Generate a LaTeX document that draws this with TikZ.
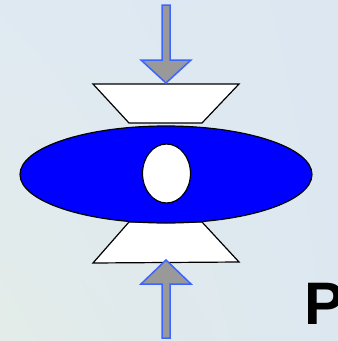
\documentclass[tikz,border=0pt]{standalone}
\usepackage{fontspec}
\newfontfamily\labelfont{Liberation Sans}
\usetikzlibrary{shapes.geometric, shadings, positioning}
\definecolor{bgblue}{RGB}{220,231,241}
\definecolor{bggreen}{RGB}{227,236,232}
\definecolor{cellblue}{RGB}{0,0,255}
\definecolor{arrowfill}{RGB}{153,153,153}
\definecolor{arrowedge}{RGB}{60,100,255}

\begin{document}
\begin{tikzpicture}[
    x=1pt, y=-1pt,
    platen/.style={fill=white, draw=black, line width=1.2pt, line join=miter},
    cell/.style={ellipse, fill=cellblue, draw=black, line width=1.2pt,
                 minimum width=292pt, minimum height=97pt, inner sep=0pt},
    nucleus/.style={ellipse, fill=white, draw=black, line width=1.2pt,
                    minimum width=48pt, minimum height=59pt, inner sep=0pt},
    force/.style={fill=arrowfill, draw=arrowedge, line width=1.5pt,
                  line join=miter},
    plabel/.style={font=\labelfont\bfseries\fontsize{60}{60}\selectfont,
                   inner sep=0pt, anchor=base west},
]

% ======================================================
% Background: soft diagonal wash
% ======================================================
\shade[upper left=bgblue!90!white, upper right=bgblue,
       lower left=bggreen, lower right=bgblue!95!bggreen]
     (0,0) rectangle (338,341);
\useasboundingbox (0,0) rectangle (338,341);

% ======================================================
% Platens above and below the cell
% ======================================================
\draw[platen] (93,84) -- (239,84) -- (202,123) -- (129,123) -- cycle;
\draw[platen] (129,222) -- (202,222) -- (239,262) -- (93,263) -- cycle;

% cell body with its nucleus
\node[cell] (body) at (166,174.5) {};
\node[nucleus] (nucl) at (166.5,173.5) {};

% ======================================================
% Compressive force arrows
% ======================================================
\draw[force] (162,5) -- (170,5) -- (170,60) -- (191,60) -- (166,83)
     -- (141,60) -- (162,60) -- cycle;
\draw[force] (162,338) -- (170,338) -- (170,284) -- (191,284) -- (166,260)
     -- (141,284) -- (162,284) -- cycle;

\node[plabel] (pload) at (304.5,324) {P};

\end{tikzpicture}
\end{document}
